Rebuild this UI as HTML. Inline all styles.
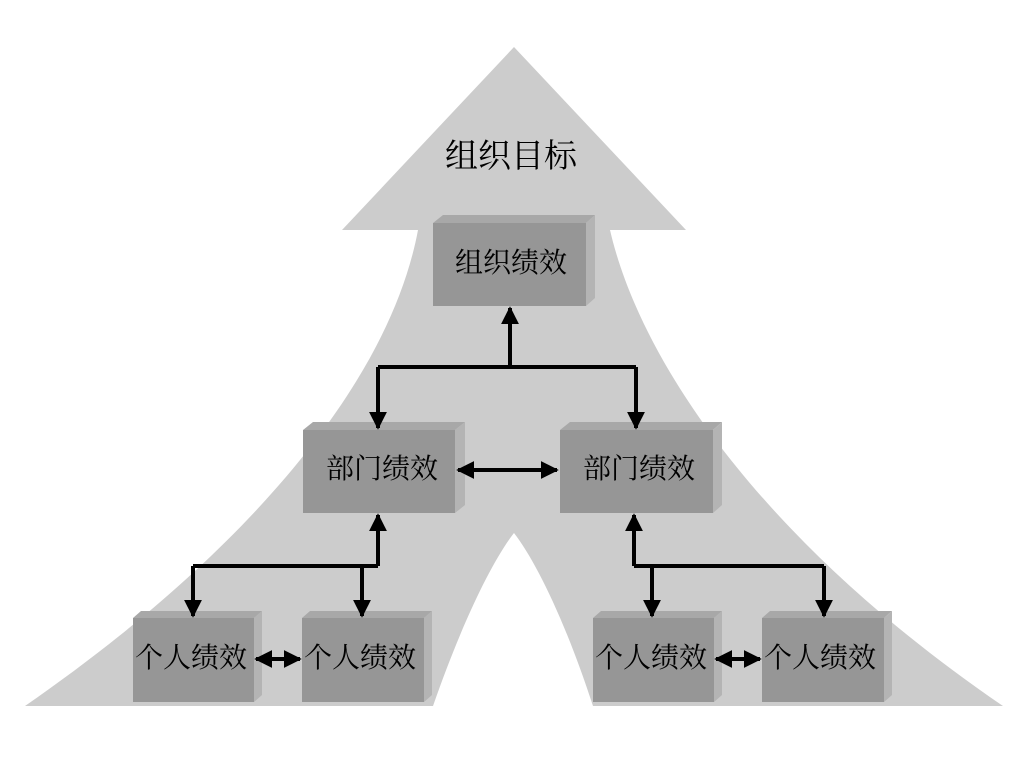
<!DOCTYPE html>
<html><head><meta charset="utf-8"><style>
html,body{margin:0;padding:0;background:#fff;}
svg{display:block;}
text{font-family:"Liberation Serif","Noto Serif CJK SC","Noto Sans CJK SC",serif;fill:#000;}
</style></head><body>
<svg width="1024" height="768" viewBox="0 0 1024 768" xmlns="http://www.w3.org/2000/svg">
<defs>
<marker id="ah" viewBox="0 0 10 10" refX="9" refY="5" markerWidth="4.5" markerHeight="4.5" orient="auto-start-reverse" markerUnits="strokeWidth"><path d="M0,0 L10,5 L0,10 Z" fill="#000"/></marker>
</defs>
<path d="M514,47 L686,230 L610,230 C640,360 760,540 1003,706 L593,706 C565,620 535,560 514,533 C493,560 463,620 433,706 L25,706 C250,550 390,380 418,230 L342,230 Z" fill="#cccccc"/>
<text x="511" y="167" font-size="33" text-anchor="middle">组织目标</text>
<g id="boxes">
<polygon points="433,223 443,215 595,215 586,223" fill="#a8a8a8"/><polygon points="586,223 595,215 595,298 586,306" fill="#b4b4b4"/><rect x="433" y="223" width="153" height="83" fill="#969696"/>
<polygon points="303,430 313,422 465,422 455,430" fill="#a8a8a8"/><polygon points="455,430 465,422 465,505 455,513" fill="#b4b4b4"/><rect x="303" y="430" width="152" height="83" fill="#969696"/>
<polygon points="560,430 570,422 722,422 713,430" fill="#a8a8a8"/><polygon points="713,430 722,422 722,505 713,513" fill="#b4b4b4"/><rect x="560" y="430" width="153" height="83" fill="#969696"/>
<polygon points="133,618 141,611 262,611 254,618" fill="#a8a8a8"/><polygon points="254,618 262,611 262,695 254,702" fill="#b4b4b4"/><rect x="133" y="618" width="121" height="84" fill="#969696"/>
<polygon points="302,618 310,611 432,611 424,618" fill="#a8a8a8"/><polygon points="424,618 432,611 432,695 424,702" fill="#b4b4b4"/><rect x="302" y="618" width="122" height="84" fill="#969696"/>
<polygon points="593,618 601,611 722,611 714,618" fill="#a8a8a8"/><polygon points="714,618 722,611 722,695 714,702" fill="#b4b4b4"/><rect x="593" y="618" width="121" height="84" fill="#969696"/>
<polygon points="762,618 770,611 892,611 884,618" fill="#a8a8a8"/><polygon points="884,618 892,611 892,695 884,702" fill="#b4b4b4"/><rect x="762" y="618" width="122" height="84" fill="#969696"/>
</g>
<g font-size="28" text-anchor="middle">
<text x="511" y="272">组织绩效</text>
<text x="382" y="478">部门绩效</text>
<text x="639" y="478">部门绩效</text>
<text x="191" y="667">个人绩效</text>
<text x="360" y="667">个人绩效</text>
<text x="651" y="667">个人绩效</text>
<text x="820" y="667">个人绩效</text>
</g>
<g stroke="#000" stroke-width="4" fill="none">
<path d="M510,367 L510,308" marker-end="url(#ah)"/>
<path d="M378,367 L636,367"/>
<path d="M378,367 L378,428" marker-end="url(#ah)"/>
<path d="M636,367 L636,428" marker-end="url(#ah)"/>
<path d="M458,470 L557,470" marker-start="url(#ah)" marker-end="url(#ah)"/>
<path d="M378,566 L378,515" marker-end="url(#ah)"/>
<path d="M193,566 L378,566"/>
<path d="M193,566 L193,616" marker-end="url(#ah)"/>
<path d="M362,566 L362,616" marker-end="url(#ah)"/>
<path d="M634,566 L634,515" marker-end="url(#ah)"/>
<path d="M634,566 L824,566"/>
<path d="M652,566 L652,616" marker-end="url(#ah)"/>
<path d="M824,566 L824,616" marker-end="url(#ah)"/>
<path d="M256,659 L300,659" marker-start="url(#ah)" marker-end="url(#ah)"/>
<path d="M716,659 L760,659" marker-start="url(#ah)" marker-end="url(#ah)"/>
</g>
</svg>
</body></html>
